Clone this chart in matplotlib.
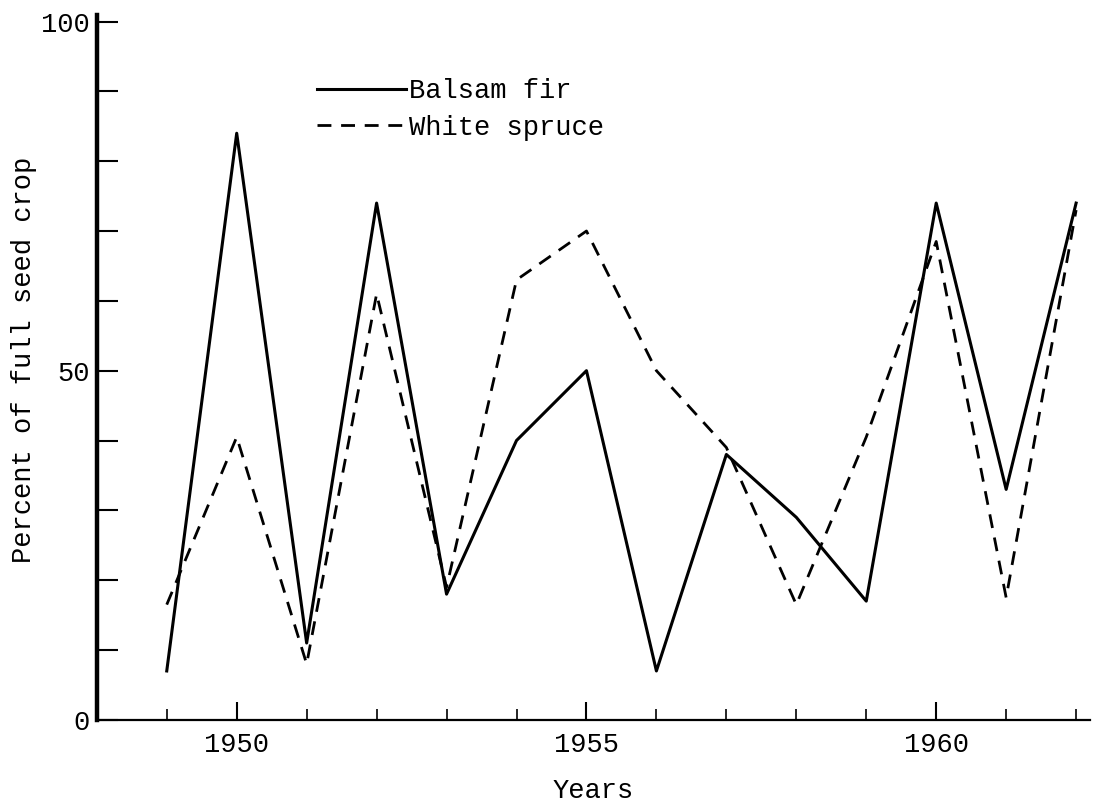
import numpy as np
import matplotlib.pyplot as plt
from matplotlib.ticker import FixedLocator, FuncFormatter

# values
years = np.arange(1949, 1963)
balsam_fir = [7, 84, 11, 74, 18, 40, 50, 7, 38, 29, 17, 74, 33, 74]
white_spruce = [16.5, 40.5, 8, 61, 19, 63, 70, 50, 39, 16.5, 40.5, 68.5, 17.5, 73]
y_labelled = [0, 50, 100]
x_labelled = [1950, 1955, 1960]

plt.rcParams['font.family'] = ['Liberation Mono', 'DejaVu Sans Mono']
plt.rcParams['font.size'] = 19.5

fig = plt.figure(figsize=(11, 8.07), dpi=100)
ax = fig.add_axes([0.088, 0.108, 0.903, 0.874])

ax.plot(years, balsam_fir, color='black', lw=2.2, label='Balsam fir')
ax.plot(years, white_spruce, color='black', lw=2.0, dashes=(5, 3.5),
        label='White spruce')

ax.set_xlim(1948.0, 1962.2)
ax.set_ylim(0, 101)

ax.spines['right'].set_visible(False)
ax.spines['top'].set_visible(False)
ax.spines['left'].set_linewidth(3.2)
ax.spines['bottom'].set_linewidth(1.6)
ax.spines['bottom'].set_linestyle((0, (4, 1)))

ax.yaxis.set_major_locator(FixedLocator(np.arange(0, 101, 10)))
ax.yaxis.set_major_formatter(FuncFormatter(
    lambda v, p: '%d' % v if int(round(v)) in y_labelled else ''))
ax.tick_params(axis='y', direction='in', length=15, width=1.5, pad=5)

ax.xaxis.set_major_locator(FixedLocator(x_labelled))
ax.xaxis.set_minor_locator(FixedLocator([y for y in years if y not in x_labelled]))
ax.tick_params(axis='x', which='major', direction='in', length=13, width=1.5, pad=9)
ax.tick_params(axis='x', which='minor', direction='in', length=8, width=1.2)

ax.set_xlabel('Years', labelpad=14)
ax.set_ylabel('Percent of full seed crop')
ax.yaxis.set_label_coords(-0.06, 0.51)

ax.legend(loc='upper left', bbox_to_anchor=(0.208, 0.929), frameon=False,
          handlelength=3.3, handletextpad=0.1, labelspacing=0.4,
          borderpad=0)

plt.savefig('out.png', dpi=100)
